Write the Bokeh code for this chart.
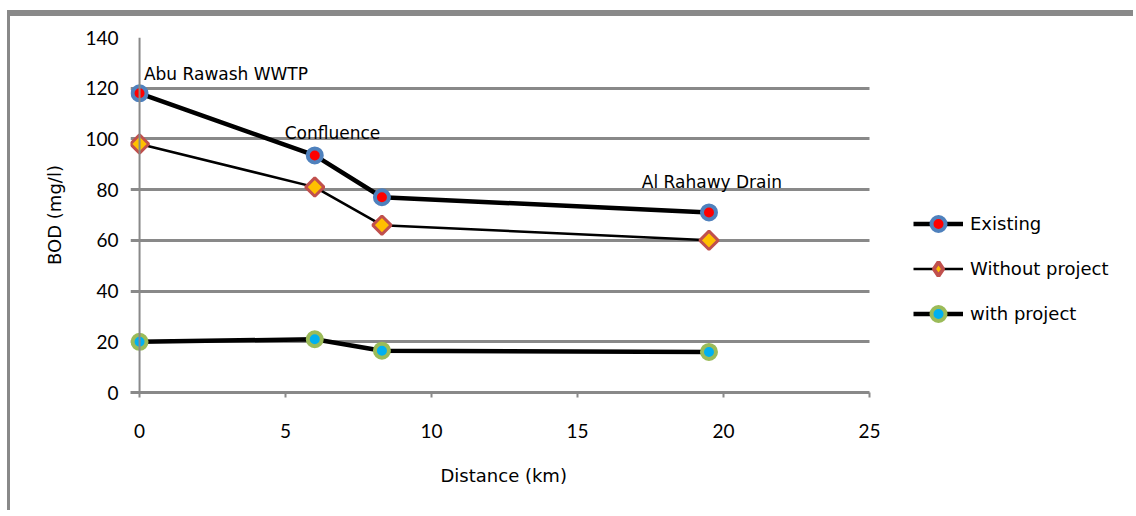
from bokeh.plotting import figure
from bokeh.models import (Legend, LegendItem, Label, FixedTicker, Span, Title,
                          ColumnDataSource, Range1d)
from bokeh.embed import file_html
from bokeh.resources import INLINE

# ---- data ----
distance = [0, 6, 8.3, 19.5]
existing = [118, 93.5, 77, 71]
without_project = [98, 81, 66, 60]
with_project = [20, 21, 16.5, 16]
x_ticks = [0, 5, 10, 15, 20, 25]
y_ticks = [0, 20, 40, 60, 80, 100, 120, 140]
site_names = ["Abu Rawash WWTP", "Confluence", "Al Rahawy Drain"]
site_x = [0.15, 4.97, 17.2]
site_y = [125.5, 102.5, 83.2]

GRAY = "#898989"
TXT_FONT = "DejaVu Sans"
NUM_FONT = "Lato"

# axis extent (the plotting frame extends further right to host the legend)
X_AXIS_START, X_AXIS_END = -0.31, 25
X_VIEW_END = 34.14

W, H = 1126, 500
p = figure(width=W, height=H, x_range=(X_AXIS_START, X_VIEW_END), y_range=(0, 140),
           output_backend="svg", toolbar_location=None, title=None,
           min_border_left=120, min_border_right=0,
           min_border_top=21, min_border_bottom=124)
p.styles = {"margin-left": "7px", "margin-top": "10px",
            "border-top": "6px solid #898989", "border-left": "3px solid #898989"}
p.outline_line_color = None
p.background_fill_color = "white"
p.border_fill_color = "white"

# axes
p.xaxis.bounds = (X_AXIS_START, X_AXIS_END)
p.xaxis.ticker = FixedTicker(ticks=x_ticks)
p.yaxis.ticker = FixedTicker(ticks=y_ticks)
p.xaxis.minor_tick_line_color = None
p.yaxis.minor_tick_line_color = None
p.xaxis.axis_line_color = GRAY
p.xaxis.axis_line_width = 3
p.yaxis.axis_line_color = None
p.xaxis.major_tick_line_color = GRAY
p.xaxis.major_tick_line_width = 2
p.xaxis.major_tick_out = 5
p.xaxis.major_tick_in = 0
p.yaxis.major_tick_line_color = None
p.yaxis.major_tick_out = 0
p.yaxis.major_tick_in = 0
for ax in (p.xaxis, p.yaxis):
    ax.major_label_text_font = NUM_FONT
    ax.major_label_text_font_size = "19px"
    ax.major_label_text_color = "black"
    ax.axis_label_text_font = TXT_FONT
    ax.axis_label_text_font_size = "18px"
    ax.axis_label_text_font_style = "normal"
    ax.axis_label_text_color = "black"
p.xaxis.major_label_standoff = 26
p.yaxis.major_label_standoff = 12
p.yaxis.axis_label = "BOD (mg/l)"
p.yaxis.axis_label_standoff = 17

# x-axis title, placed under the middle of the 0..25 axis extent
p.add_layout(Title(text="Distance (km)", align="left", offset=310,
                   text_font=TXT_FONT, text_font_size="18px",
                   text_font_style="normal", text_color="black",
                   standoff=45), "below")

# horizontal grid lines limited to the axis extent
p.xgrid.grid_line_color = None
g = p.ygrid[0]
if "cross_bounds" in g.properties():
    g.ticker = FixedTicker(ticks=y_ticks)
    g.cross_bounds = (X_AXIS_START, X_AXIS_END)
    g.grid_line_color = GRAY
    g.grid_line_width = 3
else:
    g.grid_line_color = None
    p.segment(x0=X_AXIS_START, x1=X_AXIS_END, y0=y_ticks, y1=y_ticks,
              line_color=GRAY, line_width=3, level="underlay")

# vertical value-axis line at distance 0
p.add_layout(Span(location=0, dimension="height", line_color=GRAY, line_width=2))

src = ColumnDataSource(dict(x=distance, e=existing, w=without_project, p=with_project))

# series
l1 = p.line("x", "e", source=src, line_color="black", line_width=4.5)
s1 = p.scatter("x", "e", source=src, marker="circle", size=14,
               fill_color="#FF0000", line_color="#4F81BD", line_width=4)
l2 = p.line("x", "w", source=src, line_color="black", line_width=2.5)
s2 = p.scatter("x", "w", source=src, marker="square", angle=0.785398, size=13,
               fill_color="#FFC000", line_color="#C0504D", line_width=3)
# legend-only diamond glyph: mapped on an off-screen range, so only the legend shows it
p.extra_x_ranges = {"legend_only": Range1d(1000, 1001)}
s2_leg = p.scatter("x", "w", source=src, marker="diamond", size=13,
                   fill_color="#FFC000", line_color="#C0504D", line_width=4,
                   x_range_name="legend_only")
l3 = p.line("x", "p", source=src, line_color="black", line_width=4.5)
s3 = p.scatter("x", "p", source=src, marker="circle", size=14,
               fill_color="#00B0F0", line_color="#9BBB59", line_width=4)

for name, sx, sy in zip(site_names, site_x, site_y):
    p.add_layout(Label(x=sx, y=sy, text=name, text_font=TXT_FONT,
                       text_font_size="17px", text_color="black",
                       text_baseline="alphabetic"))

legend = Legend(items=[
    LegendItem(label="Existing", renderers=[l1, s1]),
    LegendItem(label="Without project", renderers=[l2, s2_leg]),
    LegendItem(label="with project", renderers=[l3, s3]),
], location=(783, 61), margin=0, padding=0, spacing=10,
    glyph_width=50, glyph_height=35, label_height=35, label_standoff=7,
    label_text_font=TXT_FONT, label_text_font_size="18px",
    label_text_color="black", border_line_color=None,
    background_fill_alpha=0)
p.add_layout(legend, "center")

open("out.html", "w").write(file_html(p, INLINE))
